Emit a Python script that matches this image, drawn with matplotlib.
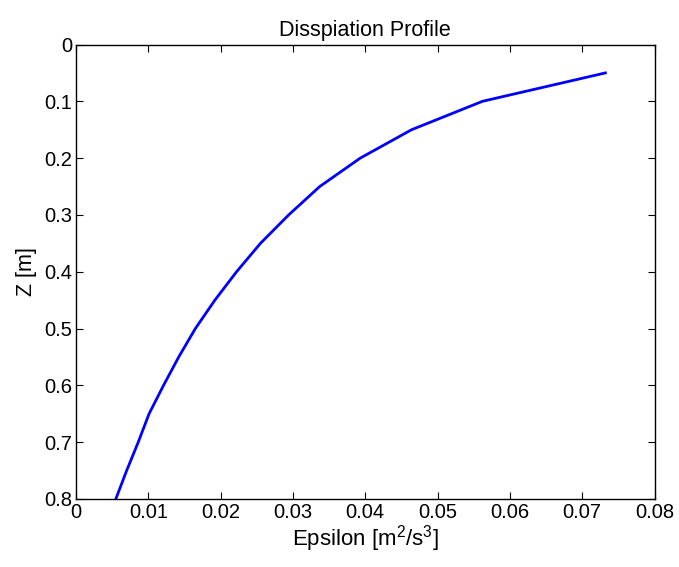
import numpy as np
import matplotlib
matplotlib.use("Agg")
import matplotlib.pyplot as plt

plt.rcParams['font.family'] = ['Liberation Sans', 'DejaVu Sans']
plt.rcParams['mathtext.default'] = 'regular'

# dissipation profile
depth = [0.05, 0.10, 0.15, 0.20, 0.25, 0.30, 0.35, 0.40,
         0.45, 0.50, 0.55, 0.60, 0.65, 0.70, 0.75, 0.80]
epsilon = [0.0732, 0.0562, 0.0464, 0.0393, 0.0337, 0.0294, 0.0255, 0.0222,
           0.0192, 0.0165, 0.0142, 0.0121, 0.0101, 0.0086, 0.0070, 0.0055]

fig = plt.figure(figsize=(6.79, 5.67), dpi=100)
ax = fig.add_axes([0.112, 0.12, 0.852, 0.8015])

ax.plot(epsilon, depth, color='#0000ff', linewidth=2.0)

ax.set_xlim(0, 0.08)
ax.set_ylim(0.8, 0)
ax.set_xticks(np.arange(0, 0.081, 0.01))
ax.set_yticks(np.arange(0, 0.81, 0.1))
ax.set_xticklabels(['0', '0.01', '0.02', '0.03', '0.04', '0.05', '0.06', '0.07', '0.08'])
ax.set_yticklabels(['0', '0.1', '0.2', '0.3', '0.4', '0.5', '0.6', '0.7', '0.8'])

ax.tick_params(direction='in', top=True, right=True, length=5, width=0.8,
               labelsize=14.5, pad=3)
for s in ax.spines.values():
    s.set_linewidth(1.0)

ax.set_title('Disspiation Profile', fontsize=15.5, pad=6)
ax.set_xlabel('Epsilon [m$^{2}$/s$^{3}$]', fontsize=16, labelpad=1)
ax.set_ylabel('Z [m]', fontsize=15.5, labelpad=5)

fig.savefig('out.png', dpi=100)
